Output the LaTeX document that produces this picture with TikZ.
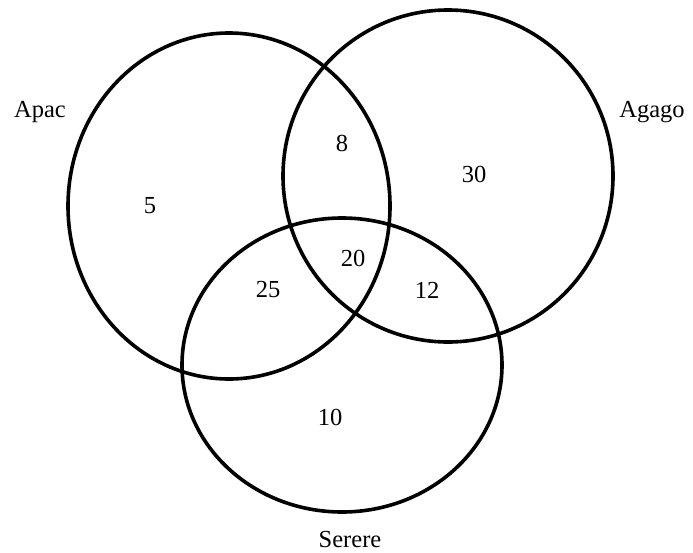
\documentclass[tikz,border=0pt]{standalone}
\usepackage{fontspec}
\setmainfont{Liberation Serif}
\begin{document}
\begin{tikzpicture}[x=1pt,y=-1pt,
  set/.style={draw=black,line width=3.6pt},
  lbl/.style={font=\fontsize{24.5}{28}\selectfont,inner sep=0pt}]
\useasboundingbox (0,0) rectangle (693,552);
\draw[set] (229,206) ellipse [x radius=161, y radius=173];
\draw[set] (448,176) ellipse [x radius=165, y radius=166];
\draw[set] (342,365) ellipse [x radius=160, y radius=147];
\node[lbl] (apac) at (40,112) {Apac};
\node[lbl] (agago) at (652,112) {Agago};
\node[lbl] (serere) at (350,539) {Serere};
\node[lbl] (n5) at (150,206) {5};
\node[lbl] (n8) at (342,143) {8};
\node[lbl] (n30) at (474,174) {30};
\node[lbl] (n20) at (353,258) {20};
\node[lbl] (n25) at (268,290) {25};
\node[lbl] (n12) at (427,290) {12};
\node[lbl] (n10) at (330,417) {10};
\end{tikzpicture}
\end{document}
